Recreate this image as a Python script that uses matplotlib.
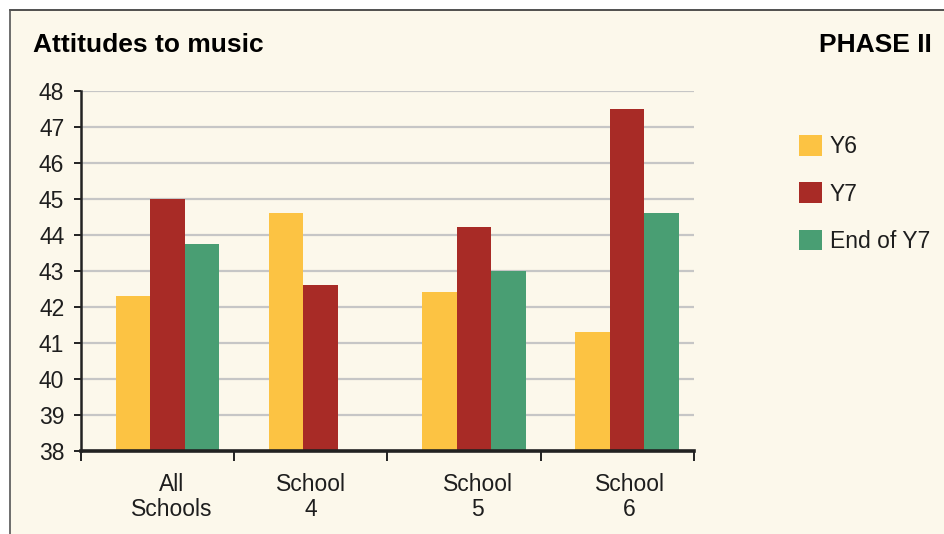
import matplotlib
matplotlib.use("Agg")
import matplotlib.pyplot as plt
import numpy as np
from matplotlib.patches import Rectangle, Patch
from matplotlib.lines import Line2D

plt.rcParams['font.family'] = ['Liberation Sans', 'DejaVu Sans']

# data
categories = ["All\nSchools", "School\n4", "School\n5", "School\n6"]
series = ["Y6", "Y7", "End of Y7"]
y6 = [42.3, 44.6, 42.4, 41.3]
y7 = [45.0, 42.6, 44.2, 47.5]
end_y7 = [43.75, np.nan, 43.0, 44.6]
colors = ["#FCC343", "#A82B26", "#499E73"]

bg = "#FCF8EB"
txt = "#1e1e1e"

fig = plt.figure(figsize=(9.44, 5.34), dpi=100, facecolor="white")

# cream panel with a thin border on top and left
fig.patches.append(Rectangle((10 / 944, 0), 1, 1 - 10 / 534, transform=fig.transFigure,
                             facecolor=bg, edgecolor="none", zorder=-10))
fig.lines.append(Line2D([10 / 944, 1], [1 - 10 / 534, 1 - 10 / 534], transform=fig.transFigure,
                        color="#333333", lw=1.2))
fig.lines.append(Line2D([10 / 944, 10 / 944], [0, 1 - 10 / 534], transform=fig.transFigure,
                        color="#555555", lw=1.2))

ax = fig.add_axes([81 / 944, 83.5 / 534, (694 - 81) / 944, (450.5 - 90.5) / 534])
ax.set_facecolor("none")

x = np.arange(len(categories))
w = 0.225
center = 0.563
for j, vals in enumerate([y6, y7, end_y7]):
    ax.bar(x + center + (j - 1) * w, vals, width=w, bottom=0, color=colors[j],
           label=series[j], zorder=3)

ax.set_xlim(0, 4)
ax.set_ylim(38, 48)
ax.set_yticks(np.arange(38, 49))
ax.yaxis.grid(True, color="#c6c6c6", lw=1.6, zorder=0)

for s in ["top", "right"]:
    ax.spines[s].set_visible(False)
ax.spines["left"].set_color("#222222")
ax.spines["left"].set_linewidth(1.8)
ax.spines["bottom"].set_color("#222222")
ax.spines["bottom"].set_linewidth(2.6)
ax.spines["bottom"].set_zorder(4)

ax.tick_params(axis="y", length=5, width=1.4, color="#222222", pad=7,
               labelsize=16.5, labelcolor=txt)
ax.set_xticks(np.arange(0, 5))
ax.set_xticklabels([])
ax.tick_params(axis="x", which="major", length=7.2, width=1.4, color="#222222")
label_pos = [0.59, 1.50, 2.59, 3.58]
ax.set_xticks(label_pos, minor=True)
ax.set_xticklabels(categories, minor=True, fontsize=16.5, color=txt, linespacing=1.12)
ax.tick_params(axis="x", which="minor", length=0, pad=16)

fig.text(33 / 944, 1 - 52 / 534, "Attitudes to music", fontsize=19, fontweight="bold",
         color="black", va="baseline", ha="left")
fig.text(932 / 944, 1 - 52 / 534, "PHASE II", fontsize=19, fontweight="bold",
         color="black", va="baseline", ha="right")

handles = [Patch(facecolor=c, edgecolor="none") for c in colors]
fig.legend(handles, series, loc="upper left", bbox_to_anchor=(799 / 944, 1 - 135 / 534),
           frameon=False, fontsize=16.5, handlelength=1.0, handleheight=1.0,
           handletextpad=0.35, labelspacing=1.06, borderpad=0, borderaxespad=0,
           labelcolor=txt)

plt.savefig("out.png", dpi=100, facecolor=fig.get_facecolor())
